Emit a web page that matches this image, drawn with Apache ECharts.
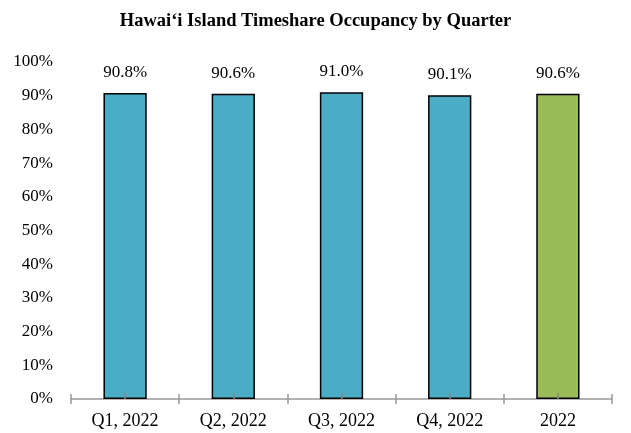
<!DOCTYPE html>
<html>
<head>
<meta charset="utf-8">
<script src="https://cdn.jsdelivr.net/npm/echarts@6/dist/echarts.min.js"></script>
<style>
html, body { margin: 0; padding: 0; background: #fff; }
#main { width: 631px; height: 433px; }
</style>
</head>
<body>
<div id="main"></div>
<script>
// data
var categories = ['Q1, 2022', 'Q2, 2022', 'Q3, 2022', 'Q4, 2022', '2022'];
var occupancy = [90.8, 90.6, 91.0, 90.1, 90.6];
var barColors = ['#4BACC6', '#4BACC6', '#4BACC6', '#4BACC6', '#9BBB59'];
var titleText = 'Hawai\u2018i Island Timeshare Occupancy by Quarter';

var serif = '"Liberation Serif", "DejaVu Serif", serif';
var tickStyle = { color: '#999', width: 1.5 };

var chart = echarts.init(document.getElementById('main'));
chart.setOption({
	animation: false,
	title: {
		text: titleText,
		left: 'center',
		top: 7,
		textStyle: {
			fontFamily: serif,
			fontSize: 18.5,
			fontWeight: 'bold',
			color: '#000'
		}
	},
	grid: {
		left: 71,
		right: 19,
		top: 62,
		bottom: 34
	},
	xAxis: [{
		type: 'category',
		data: categories,
		axisLine: { show: true, lineStyle: tickStyle },
		axisTick: { show: true, inside: false, length: 5, lineStyle: tickStyle },
		axisLabel: { fontFamily: serif, fontSize: 18, color: '#000', margin: 13 }
	}, {
		// boundary ticks above the line
		type: 'category',
		data: categories,
		position: 'bottom',
		axisLine: { show: false },
		axisTick: { show: true, inside: true, length: 5, lineStyle: tickStyle },
		axisLabel: { show: false }
	}, {
		// center ticks over the bars
		type: 'category',
		data: categories,
		position: 'bottom',
		zlevel: 1,
		z: 5,
		axisLine: { show: false },
		axisTick: { show: true, inside: true, alignWithLabel: true, length: 6, lineStyle: { color: '#888', width: 1.5 } },
		axisLabel: { show: false }
	}],
	yAxis: {
		type: 'value',
		min: 0,
		max: 100,
		interval: 10,
		splitLine: { show: false },
		axisLine: { show: false },
		axisTick: { show: false },
		axisLabel: {
			fontFamily: serif,
			fontSize: 17,
			color: '#000',
			margin: 18,
			formatter: '{value}%'
		}
	},
	series: [{
		type: 'bar',
		barWidth: '40%',
		data: occupancy.map(function(v, i) {
			return { value: v, itemStyle: { color: barColors[i] } };
		}),
		itemStyle: { borderColor: '#000', borderWidth: 1.5 },
		label: {
			show: true,
			position: 'top',
			distance: 12,
			fontFamily: serif,
			fontSize: 17,
			color: '#000',
			formatter: function(p) { return p.value.toFixed(1) + '%'; }
		}
	}]
});
</script>
</body>
</html>
